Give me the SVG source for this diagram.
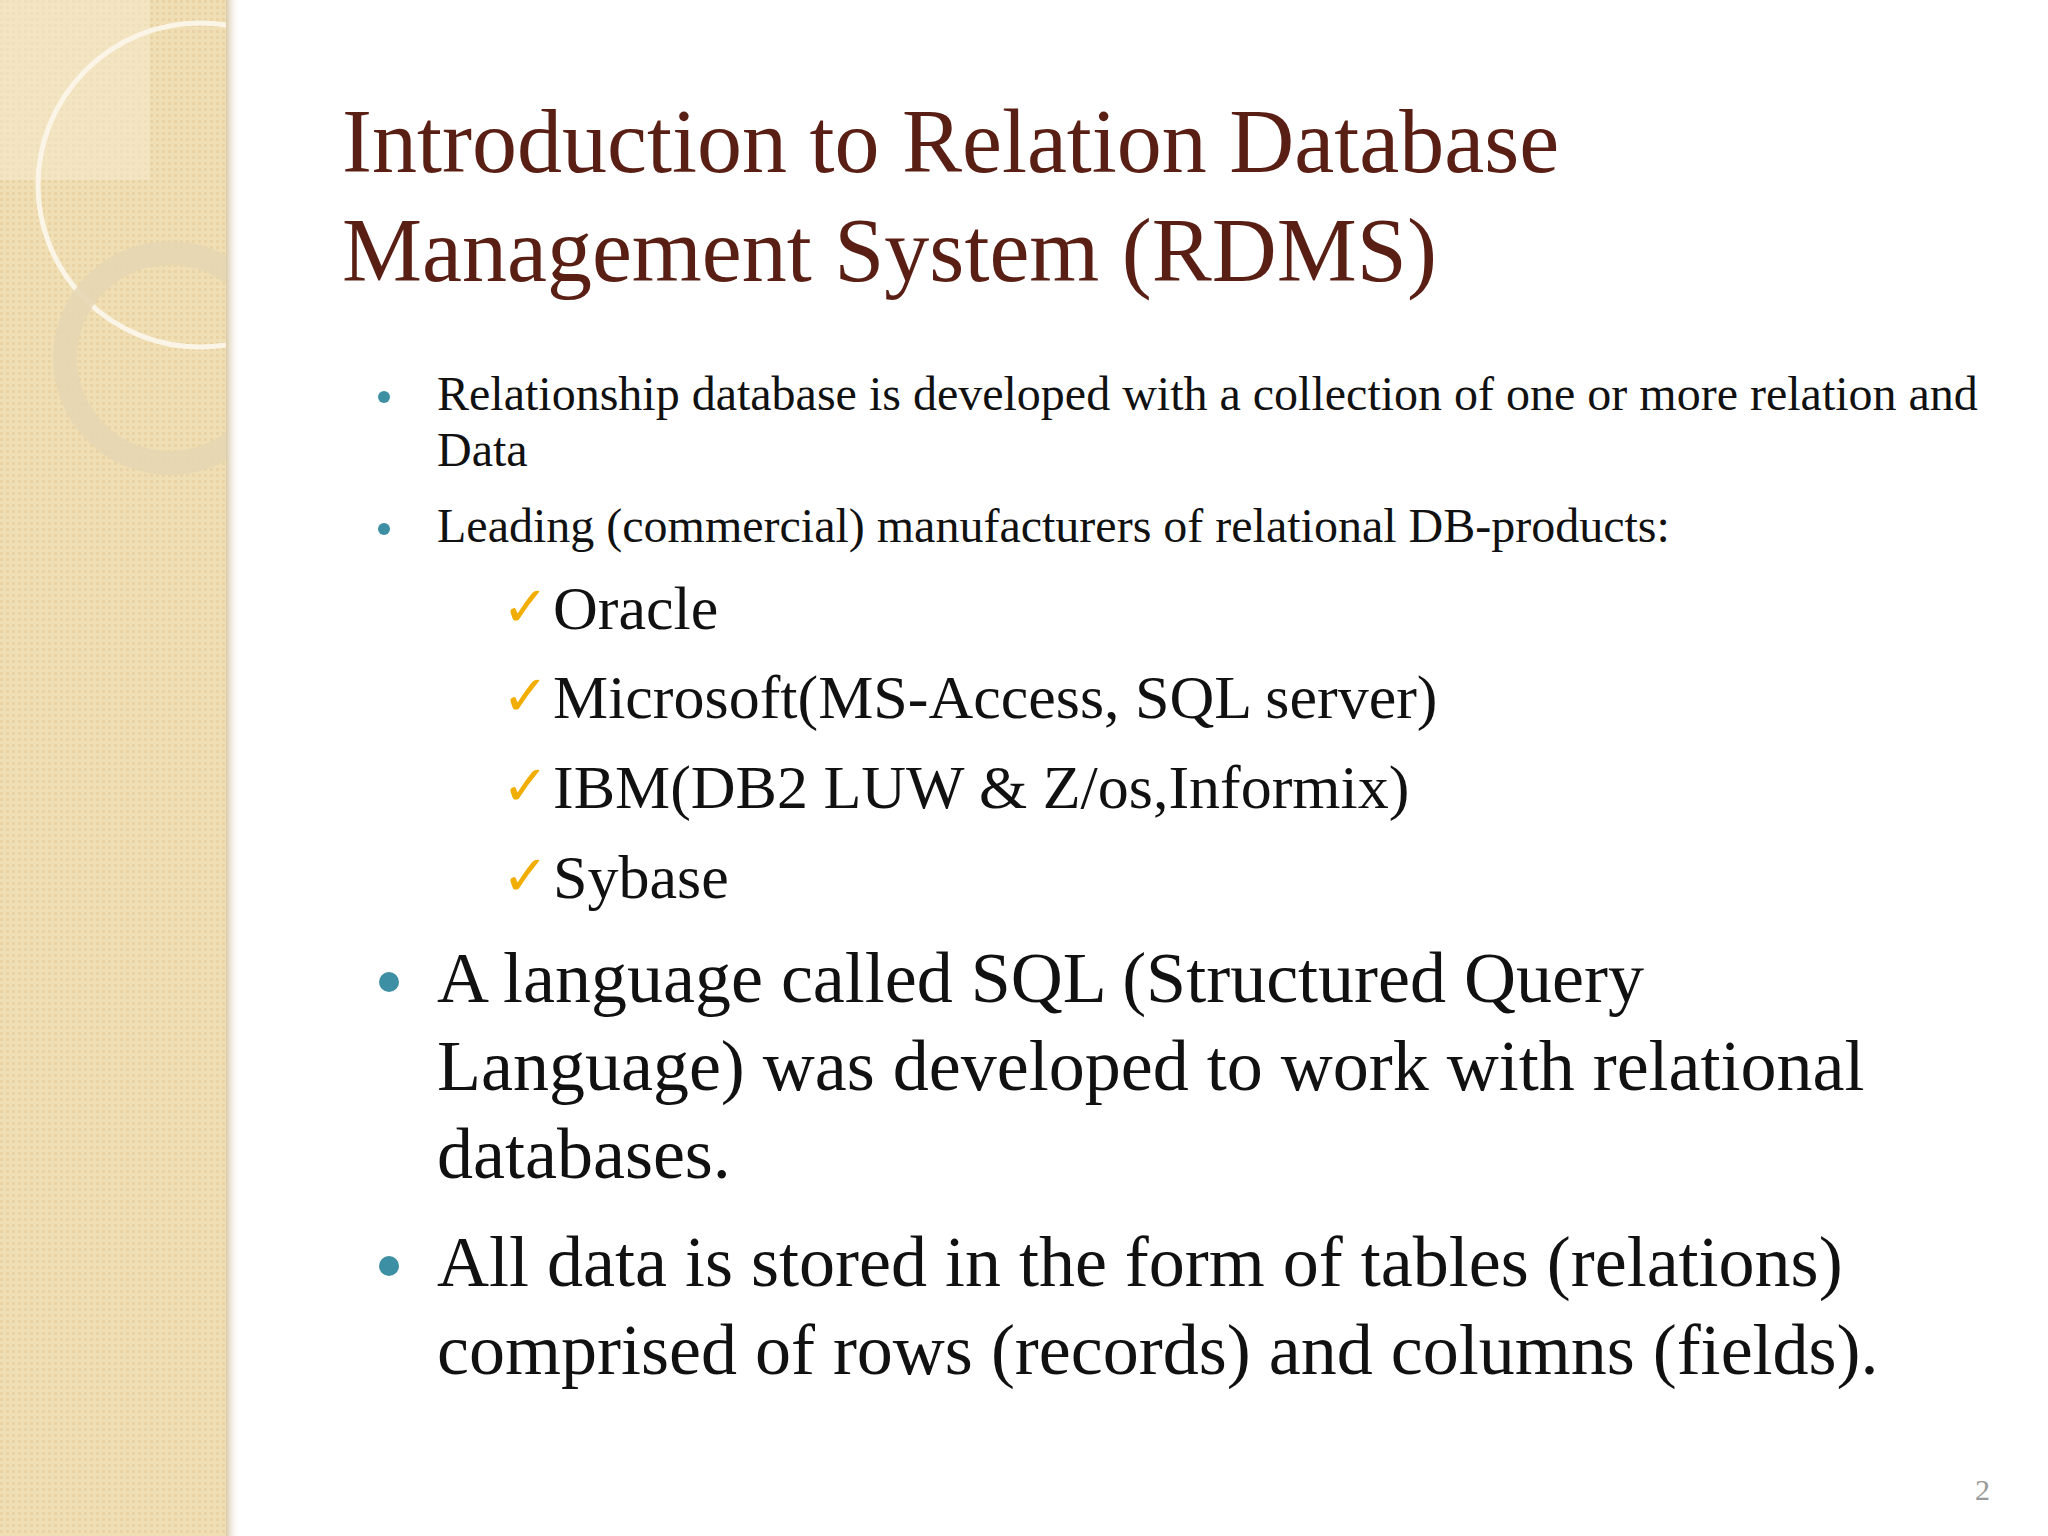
<svg xmlns="http://www.w3.org/2000/svg" width="2048" height="1536" viewBox="0 0 2048 1536">
<defs>
<pattern id="dots" width="6" height="6" patternUnits="userSpaceOnUse">
<rect width="6" height="6" fill="#f0dfb5"/><rect width="3" height="3" fill="#e9d3a4"/>
</pattern>
<linearGradient id="sh" x1="0" x2="1"><stop offset="0" stop-color="#d8c9a8"/><stop offset="1" stop-color="#ffffff" stop-opacity="0"/></linearGradient>
<clipPath id="cl"><rect width="226" height="1536"/></clipPath>
</defs>
<style>
.t{font-family:"Liberation Serif",serif;fill:#5a1f14;font-size:90px}
.b{font-family:"Liberation Serif",serif;fill:#111}
.s{font-size:48px}.m{font-size:62px}.l{font-size:72px}
.ck{fill:#f2ae00;font-family:"DejaVu Sans",sans-serif;font-size:56px;font-weight:bold}
.dot{fill:#3d8fa3}
</style>
<rect width="2048" height="1536" fill="#ffffff"/>
<g id="sidebar">
<rect width="226" height="1536" fill="url(#dots)"/>
<rect x="226" width="14" height="1536" fill="url(#sh)"/>
<g clip-path="url(#cl)">
<rect x="0" y="0" width="150" height="180" fill="#f5e8cc" opacity="0.6"/>
<circle cx="200" cy="185" r="162" fill="none" stroke="#fbf5e8" stroke-width="5"/>
<circle cx="170" cy="358" r="105" fill="none" stroke="#e6d6b2" stroke-width="24" opacity="0.9"/>
</g>
</g>
<g id="title">
<text class="t" x="342" y="172">Introduction to Relation Database</text>
<text class="t" x="342" y="281">Management System (RDMS)</text>
</g>
<g id="body">
<circle class="dot" cx="384" cy="397" r="6"/>
<text class="b s" x="437" y="410">Relationship database is developed with a collection of one or more relation and</text>
<text class="b s" x="437" y="466">Data</text>
<circle class="dot" cx="384" cy="529" r="6"/>
<text class="b s" x="437" y="542">Leading (commercial) manufacturers of relational DB-products:</text>
<text class="ck" x="502" y="626">✓</text><text class="b m" x="553" y="629">Oracle</text>
<text class="ck" x="502" y="715">✓</text><text class="b m" x="553" y="718">Microsoft(MS-Access, SQL server)</text>
<text class="ck" x="502" y="805">✓</text><text class="b m" x="553" y="808">IBM(DB2 LUW &amp; Z/os,Informix)</text>
<text class="ck" x="502" y="895">✓</text><text class="b m" x="553" y="898">Sybase</text>
<circle class="dot" cx="389" cy="982" r="10"/>
<text class="b l" x="437" y="1002">A language called SQL (Structured Query</text>
<text class="b l" x="437" y="1090">Language) was developed to work with relational</text>
<text class="b l" x="437" y="1178">databases.</text>
<circle class="dot" cx="389" cy="1266" r="10"/>
<text class="b l" x="437" y="1286">All data is stored in the form of tables (relations)</text>
<text class="b l" x="437" y="1374">comprised of rows (records) and columns (fields).</text>
</g>
<text x="1975" y="1500" font-family="Liberation Serif,serif" font-size="30" fill="#999">2</text>
</svg>
